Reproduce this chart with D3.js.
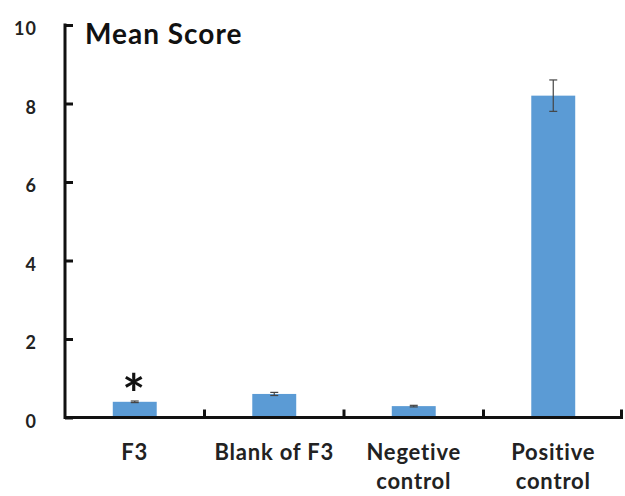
<!DOCTYPE html>
<html><head><meta charset="utf-8">
<script src="https://cdn.jsdelivr.net/npm/d3@7"></script>
<style>body{margin:0;background:#fff}svg{display:block}</style>
</head><body>
<svg id="c" width="625" height="496"></svg>
<script>
const categories = [["F3"], ["Blank of F3"], ["Negetive", "control"], ["Positive", "control"]];
const values = [0.40, 0.60, 0.29, 8.20];
const errors = [0.02, 0.04, 0.02, 0.40];
const marks = ["*", "", "", ""];
const yTicks = [0, 2, 4, 6, 8, 10];
const yTitle = "Mean Score";

const svg = d3.select("#c");
const font = "Lato, 'Open Sans', sans-serif";
const x = d3.scaleBand().domain(d3.range(categories.length)).range([65, 623]).paddingInner(0).paddingOuter(0);
const y = d3.scaleLinear().domain([0, 10]).range([417.5, 25]);
const bw = x.bandwidth() * 0.315;

// bars
svg.selectAll("rect.bar").data(values).join("rect")
  .attr("x", (d, i) => x(i) + x.bandwidth() / 2 - bw / 2)
  .attr("y", d => y(d)).attr("width", bw).attr("height", d => y(0) - y(d))
  .attr("fill", "#5b9bd5");

// error bars
const eg = svg.append("g").attr("stroke", "#444").attr("stroke-width", 1.2);
values.forEach((v, i) => {
  const cx = x(i) + x.bandwidth() / 2;
  eg.append("line").attr("x1", cx).attr("x2", cx).attr("y1", y(v - errors[i])).attr("y2", y(v + errors[i]));
  eg.append("line").attr("x1", cx - 4).attr("x2", cx + 4).attr("y1", y(v + errors[i])).attr("y2", y(v + errors[i]));
  eg.append("line").attr("x1", cx - 4).attr("x2", cx + 4).attr("y1", y(v - errors[i])).attr("y2", y(v - errors[i]));
});

// marks
svg.selectAll("text.mark").data(marks).join("text")
  .attr("x", (d, i) => x(i) + x.bandwidth() / 2 - 1)
  .attr("y", (d, i) => y(values[i] + errors[i]) + 12)
  .attr("text-anchor", "middle").attr("font-family", font).attr("font-size", 54).attr("font-weight", "bold")
  .attr("fill", "#111").text(d => d);

// y axis
const yAxis = d3.axisRight(y).tickValues(yTicks).tickSize(8).tickFormat("");
const ga = svg.append("g").attr("transform", "translate(65,0)").call(yAxis);
ga.select(".domain").remove();
ga.selectAll(".tick line").attr("stroke", "#111").attr("stroke-width", 3);
svg.append("line").attr("x1", 65).attr("x2", 65).attr("y1", y(10) - 1.5).attr("y2", y(0) + 1.5)
  .attr("stroke", "#111").attr("stroke-width", 3);
svg.selectAll("text.yl").data(yTicks).join("text")
  .attr("x", 37).attr("y", d => y(d) + 4).attr("dy", "0.35em").attr("text-anchor", "end")
  .attr("font-family", font).attr("font-weight", "bold").attr("font-size", 18)
  .attr("letter-spacing", 1).attr("fill", "#222")
  .text(d => d);

// x axis
svg.append("line").attr("x1", 65).attr("x2", 623).attr("y1", y(0)).attr("y2", y(0))
  .attr("stroke", "#111").attr("stroke-width", 3);
const bounds = d3.range(1, categories.length + 1).map(i => i < categories.length ? x(i) : 623 - 1.5);
svg.selectAll("line.xt").data(bounds).join("line")
  .attr("x1", d => d).attr("x2", d => d).attr("y1", y(0)).attr("y2", y(0) - 8)
  .attr("stroke", "#111").attr("stroke-width", 3);

// category labels
categories.forEach((lines, i) => {
  const cx = x(i) + x.bandwidth() / 2;
  const t = svg.append("text").attr("x", cx).attr("y", 460)
    .attr("text-anchor", "middle").attr("font-family", font).attr("font-weight", "bold")
    .attr("font-size", 22).attr("letter-spacing", 0.8).attr("fill", "#222");
  lines.forEach((l, j) => t.append("tspan").attr("x", cx).attr("dy", j ? 29 : 0).text(l));
});

// title
svg.append("text").attr("x", 85).attr("y", 44).attr("font-family", font).attr("font-weight", "bold")
  .attr("font-size", 28).attr("letter-spacing", 1).attr("fill", "#111").text(yTitle);
</script>
</body></html>
